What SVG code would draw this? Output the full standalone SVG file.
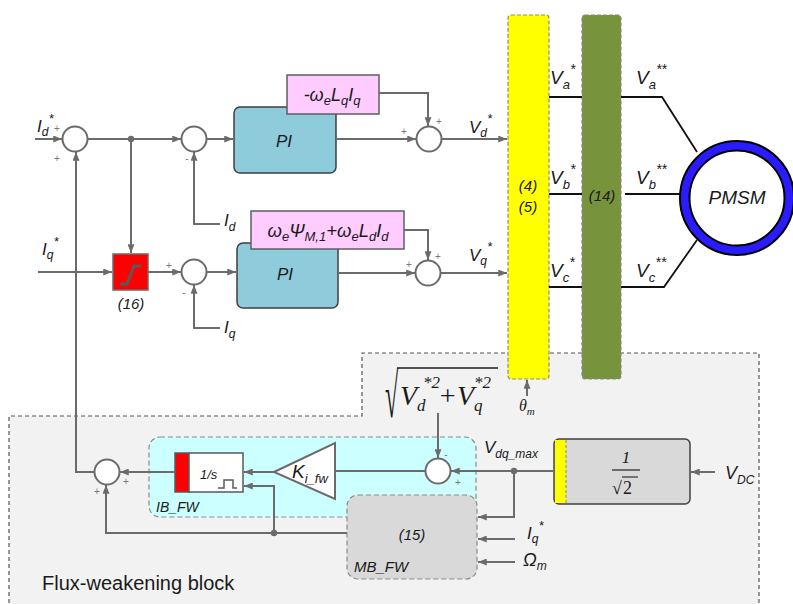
<svg xmlns="http://www.w3.org/2000/svg" width="793" height="604" viewBox="0 0 793 604">
<defs>
<marker id="ah" viewBox="0 0 10 8" refX="10" refY="4" markerWidth="9" markerHeight="7" orient="auto" markerUnits="userSpaceOnUse"><path d="M0,0 L10,4 L0,8 z" fill="#6b6b6b"/></marker>
<style>
.c{fill:none;stroke:#6b6b6b;stroke-width:2}
.a{marker-end:url(#ah)}
.k{fill:none;stroke:#111;stroke-width:1.8}
.sum{fill:#fff;stroke:#6b6b6b;stroke-width:2}
.t{font-family:"Liberation Sans",Arial,sans-serif;fill:#1a1a1a}
.i{font-style:italic}
.s{font-family:"Liberation Serif","Times New Roman",serif;font-style:italic;fill:#1a1a1a}
.sg{font-family:"Liberation Sans",Arial,sans-serif;font-size:10px;fill:#777;text-anchor:middle}
.pi{fill:#8ecbdb;stroke:#3f3f3f;stroke-width:1.5}
.pk{fill:#ffccff;stroke:#5f5f5f;stroke-width:1.5}
.mid{text-anchor:middle}
</style>
</defs>

<g id="flux-region">
<path d="M9,610 V416 H362 V353 H759 V610" fill="#f2f2f2" stroke="#555" stroke-width="1.2" stroke-dasharray="4,3"/>
<text x="42" y="590" class="t" font-size="20">Flux-weakening block</text>
</g>

<g id="IB_FW">
<rect x="149" y="437" width="327" height="80" rx="11" fill="#ccffff" stroke="#8a8a8a" stroke-width="1.2" stroke-dasharray="5,3"/>
<text x="156" y="512" class="t i" font-size="14">IB_FW</text>
</g>

<g id="MB_FW">
<rect x="347" y="495" width="130" height="84" rx="11" fill="#d9d9d9" stroke="#8a8a8a" stroke-width="1.2" stroke-dasharray="5,3"/>
<text x="412" y="540" class="t i mid" font-size="15">(15)</text>
<text x="354" y="572" class="t i" font-size="15">MB_FW</text>
</g>

<g id="transform-45">
<rect x="508" y="15" width="41" height="364" rx="3" fill="#ffff00" stroke="#8a8a8a" stroke-width="1.2" stroke-dasharray="4,2"/>
<text x="528" y="191" class="t i mid" font-size="15">(4)</text>
<text x="528" y="212" class="t i mid" font-size="15">(5)</text>
</g>

<g id="block-14">
<rect x="582" y="15" width="39" height="364" rx="3" fill="#77933c" stroke="#8a8a8a" stroke-width="1.2" stroke-dasharray="4,2"/>
<text x="602" y="201" class="t i mid" font-size="15">(14)</text>
</g>

<g id="PMSM">
<circle cx="737" cy="198" r="57" fill="#2a1cff" stroke="#000" stroke-width="2"/>
<circle cx="737" cy="198" r="47.5" fill="#fff" stroke="#000" stroke-width="2"/>
<text x="737" y="204" class="t i mid" font-size="19">PMSM</text>
</g>

<g id="sum1"><circle cx="75" cy="139" r="12.5" class="sum"/></g>
<g id="sum2"><circle cx="194" cy="139" r="12.5" class="sum"/></g>
<g id="sum3"><circle cx="429" cy="139" r="12.5" class="sum"/></g>
<g id="sum4"><circle cx="194" cy="272" r="12.5" class="sum"/></g>
<g id="sum5"><circle cx="428" cy="273" r="12.5" class="sum"/></g>
<g id="sum6"><circle cx="107" cy="472" r="12.5" class="sum"/></g>
<g id="sum7"><circle cx="438" cy="471" r="12.5" class="sum"/></g>

<g id="PI-d">
<rect x="234" y="107" width="102" height="66" rx="6" class="pi"/>
<text x="284" y="147" class="t i mid" font-size="17">PI</text>
</g>
<g id="decouple-d">
<rect x="287" y="75" width="92" height="39" class="pk"/>
<text x="332" y="101" class="t i mid" font-size="18">-ω<tspan font-size="13" dy="4">e</tspan><tspan dy="-4">L</tspan><tspan font-size="13" dy="4">q</tspan><tspan dy="-4">I</tspan><tspan font-size="13" dy="4">q</tspan></text>
</g>

<g id="PI-q">
<rect x="237" y="243" width="101" height="65" rx="6" class="pi"/>
<text x="285" y="280" class="t i mid" font-size="17">PI</text>
</g>
<g id="decouple-q">
<rect x="251" y="211" width="153" height="38" class="pk"/>
<text x="328" y="237" class="t i mid" font-size="18.5">ω<tspan font-size="13" dy="4">e</tspan><tspan dy="-4">Ψ</tspan><tspan font-size="13" dy="4">M,1</tspan><tspan dy="-4">+ω</tspan><tspan font-size="13" dy="4">e</tspan><tspan dy="-4">L</tspan><tspan font-size="13" dy="4">d</tspan><tspan dy="-4">I</tspan><tspan font-size="13" dy="4">d</tspan></text>
</g>

<g id="limiter-16">
<rect x="113" y="254" width="35" height="36" fill="#ff0000" stroke="#6b6b6b" stroke-width="1.5"/>
<path d="M120,284 H127 L134,266 H141" fill="none" stroke="#595959" stroke-width="3"/>
<text x="131" y="309" class="t i mid" font-size="15">(16)</text>
</g>

<g id="integrator">
<rect x="175" y="453" width="14" height="39" fill="#ff0000" stroke="#595959" stroke-width="1.5"/>
<rect x="189" y="453" width="54" height="39" fill="#fff" stroke="#595959" stroke-width="1.5"/>
<text x="200" y="479" class="t i" font-size="13">1/s</text>
<path d="M218,488 H224 V480 H233 V488 H237" fill="none" stroke="#595959" stroke-width="1.5"/>
</g>

<g id="gain">
<polygon points="274,472 335,443 335,499" fill="#fff" stroke="#6b6b6b" stroke-width="2"/>
<text x="292" y="478" class="t i" font-size="19">K<tspan font-size="13" dy="5">i_fw</tspan></text>
</g>

<g id="scale-block">
<rect x="554" y="439" width="136" height="65" rx="5" fill="#d9d9d9" stroke="#404040" stroke-width="1.5"/>
<rect x="555" y="440" width="11" height="63" fill="#ffff00"/>
<line x1="566" y1="440" x2="566" y2="503" stroke="#8a8a8a" stroke-width="1" stroke-dasharray="3,2"/>
<text x="626" y="463" class="s mid" font-size="17" font-style="normal">1</text>
<line x1="612" y1="470" x2="640" y2="470" stroke="#222" stroke-width="1.2"/>
<text x="612" y="494" font-family="Liberation Serif,serif" font-size="18" fill="#1a1a1a">√</text>
<line x1="622" y1="477" x2="638" y2="477" stroke="#222" stroke-width="1.1"/>
<text x="623" y="494" font-family="Liberation Serif,serif" font-size="18" fill="#1a1a1a">2</text>
</g>

<g id="connectors">
<path class="c a" d="M35,139 H62"/>
<path class="c a" d="M88,139 H181"/>
<circle cx="131" cy="139" r="3.2" fill="#6b6b6b"/>
<path class="c a" d="M206,139 H233"/>
<path class="c a" d="M336,139 H416"/>
<path class="c a" d="M379,93 H428 V126"/>
<path class="c a" d="M441,139 H507"/>
<path class="c a" d="M220,224 H194 V152"/>
<path class="c a" d="M131,139 V253"/>
<path class="c a" d="M38,272 H112"/>
<path class="c a" d="M148,272 H181"/>
<path class="c a" d="M206,272 H236"/>
<path class="c a" d="M220,328 H194 V285"/>
<path class="c a" d="M338,273 H415"/>
<path class="c a" d="M404,230 H428 V260"/>
<path class="c a" d="M441,273 H507"/>
<path class="k" d="M549,97 H582 M621,97 H662 L697,152"/>
<path class="k" d="M549,194 H582 M625,194 H680"/>
<path class="k" d="M549,287 H582 M621,287 H664 L697,240"/>
<path class="c a" d="M527,396 V380"/>
<path class="c a" d="M94,472 H76 V152"/>
<path class="c a" d="M175,472 H120"/>
<path class="c a" d="M274,472 H244"/>
<path class="c" d="M425,471 H335"/>
<path class="c a" d="M438,413 V458"/>
<path class="c a" d="M554,471 H451"/>
<circle cx="514" cy="471" r="3.2" fill="#6b6b6b"/>
<path class="c a" d="M514,471 V517 H478"/>
<path class="c a" d="M515,539 H478"/>
<path class="c a" d="M515,562 H478"/>
<path class="c a" d="M715,472 H691"/>
<path class="c a" d="M347,533 H106 V485"/>
<circle cx="274" cy="533" r="3.2" fill="#6b6b6b"/>
<path class="c a" d="M274,533 V486 H244"/>
</g>

<g id="signs">
<text x="57" y="132" class="sg">+</text>
<text x="57" y="162" class="sg">+</text>
<text x="187" y="162" class="sg">-</text>
<text x="404" y="135" class="sg">+</text>
<text x="439" y="125" class="sg">+</text>
<text x="169" y="269" class="sg">+</text>
<text x="184" y="296" class="sg">-</text>
<text x="409" y="268" class="sg">+</text>
<text x="438" y="260" class="sg">+</text>
<text x="126" y="485" class="sg">+</text>
<text x="97" y="495" class="sg">+</text>
<text x="446" y="458" class="sg">-</text>
<text x="458" y="486" class="sg">+</text>
</g>

<g id="labels">
<text x="37" y="132" class="t i" font-size="17">I<tspan font-size="12" dy="4">d</tspan><tspan font-size="13" dy="-13">*</tspan></text>
<text x="42" y="255" class="t i" font-size="17">I<tspan font-size="12" dy="4">q</tspan><tspan font-size="13" dy="-13">*</tspan></text>
<text x="224" y="226" class="t i" font-size="17">I<tspan font-size="12" dy="5">d</tspan></text>
<text x="224" y="333" class="t i" font-size="17">I<tspan font-size="12" dy="5">q</tspan></text>
<text x="469" y="133" class="t i" font-size="17">V<tspan font-size="12" dy="4">d</tspan><tspan font-size="13" dy="-14">*</tspan></text>
<text x="469" y="261" class="t i" font-size="17">V<tspan font-size="12" dy="4">q</tspan><tspan font-size="13" dy="-14">*</tspan></text>
<text x="550" y="84" class="t i" font-size="19">V<tspan font-size="13" dy="5">a</tspan><tspan font-size="14" dy="-15">*</tspan></text>
<text x="550" y="184" class="t i" font-size="19">V<tspan font-size="13" dy="5">b</tspan><tspan font-size="14" dy="-15">*</tspan></text>
<text x="550" y="277" class="t i" font-size="19">V<tspan font-size="13" dy="5">c</tspan><tspan font-size="14" dy="-15">*</tspan></text>
<text x="636" y="84" class="t i" font-size="19">V<tspan font-size="13" dy="5">a</tspan><tspan font-size="14" dy="-15">**</tspan></text>
<text x="636" y="184" class="t i" font-size="19">V<tspan font-size="13" dy="5">b</tspan><tspan font-size="14" dy="-15">**</tspan></text>
<text x="636" y="277" class="t i" font-size="19">V<tspan font-size="13" dy="5">c</tspan><tspan font-size="14" dy="-15">**</tspan></text>
<text x="519" y="411" class="s" font-size="16">θ<tspan font-size="11" dy="4">m</tspan></text>
<text x="484" y="453" class="t i" font-size="17">V<tspan font-size="12" dy="5">dq_max</tspan></text>
<text x="725" y="479" class="t i" font-size="18">V<tspan font-size="12" dy="5">DC</tspan></text>
<text x="527" y="539" class="t i" font-size="17">I<tspan font-size="12" dy="4">q</tspan><tspan font-size="13" dy="-13">*</tspan></text>
<text x="523" y="566" class="t i" font-size="18">Ω<tspan font-size="12" dy="4">m</tspan></text>
</g>

<g id="sqrt-label">
<text transform="translate(385,417) scale(0.6,1.55)" font-family="Liberation Serif,serif" font-size="40" fill="#1a1a1a">√</text>
<line x1="397" y1="368" x2="498" y2="368" stroke="#1a1a1a" stroke-width="1.4"/>
<text x="400" y="405" class="s" font-size="28">V<tspan font-size="17" dy="6">d</tspan></text>
<text x="423" y="388" class="s" font-size="17" font-style="normal">*2</text>
<text x="438" y="405" class="s" font-size="28" font-style="normal">+</text>
<text x="457" y="405" class="s" font-size="28">V<tspan font-size="17" dy="6">q</tspan></text>
<text x="474" y="388" class="s" font-size="17" font-style="normal">*2</text>
</g>
</svg>
